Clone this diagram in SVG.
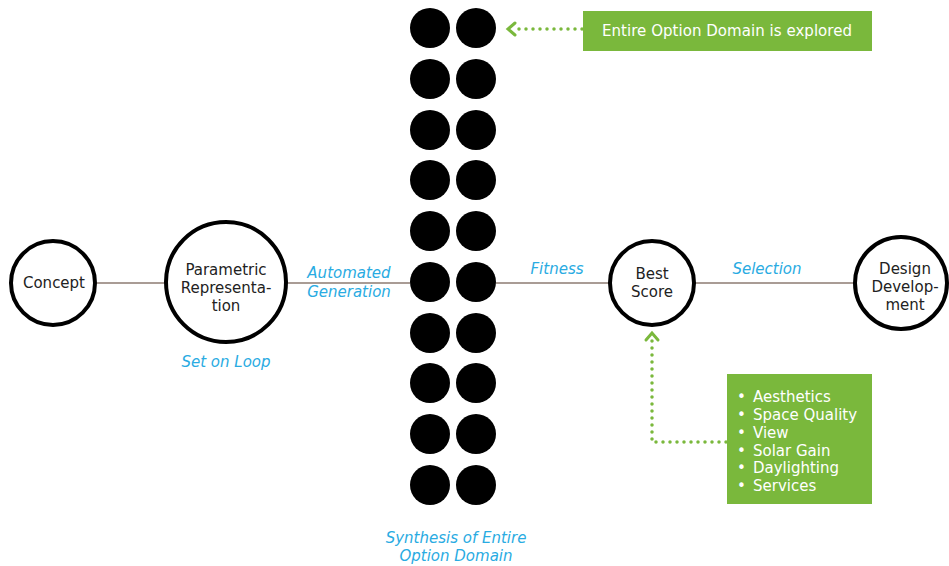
<svg xmlns="http://www.w3.org/2000/svg" width="949" height="566" viewBox="0 0 949 566">
<defs>
<style>
.node{fill:#fff;stroke:#000;stroke-width:4}
.dot{fill:#000}
.nt{font-family:"DejaVu Sans","Liberation Sans",sans-serif;font-size:15px;fill:#222;text-anchor:middle}
.bl{font-family:"DejaVu Sans","Liberation Sans",sans-serif;font-size:15px;font-style:italic;fill:#29abe2;text-anchor:middle}
.wt{font-family:"DejaVu Sans","Liberation Sans",sans-serif;font-size:15px;fill:#fff}
.conn{stroke:#8c7b72;stroke-width:1.5;fill:none}
.dotted{stroke:#7ab83c;stroke-width:3.5;stroke-linecap:round;stroke-dasharray:0 7;fill:none}
.chev{stroke:#7ab83c;stroke-width:3;fill:none;stroke-linecap:round;stroke-linejoin:miter}
.box{fill:#7ab83c}
</style>
</defs>
<rect width="949" height="566" fill="#fff"/>
<g id="connectors">
<line class="conn" x1="97" y1="283" x2="166" y2="283"/>
<line class="conn" x1="287" y1="283" x2="410" y2="283"/>
<line class="conn" x1="496" y1="283" x2="610" y2="283"/>
<line class="conn" x1="694" y1="283" x2="855" y2="283"/>
<path class="dotted" d="M582 29 H513"/>
<path class="chev" d="M515 23 L508 29 L515 35"/>
<path class="dotted" d="M726 442 H652 V340"/>
<path class="chev" d="M646 340 L652 333 L658 340"/>
</g>
<g id="concept">
<circle class="node" cx="53" cy="283" r="42"/>
<text class="nt" x="54" y="288">Concept</text>
</g>
<g id="parametric">
<circle class="node" cx="226" cy="282" r="60"/>
<text class="nt" x="226" y="275">Parametric</text>
<text class="nt" x="226" y="293">Representa-</text>
<text class="nt" x="226" y="311">tion</text>
</g>
<g id="options">
<circle class="dot" cx="430" cy="28" r="20"/><circle class="dot" cx="476" cy="28" r="20"/>
<circle class="dot" cx="430" cy="79" r="20"/><circle class="dot" cx="476" cy="79" r="20"/>
<circle class="dot" cx="430" cy="130" r="20"/><circle class="dot" cx="476" cy="130" r="20"/>
<circle class="dot" cx="430" cy="180" r="20"/><circle class="dot" cx="476" cy="180" r="20"/>
<circle class="dot" cx="430" cy="231" r="20"/><circle class="dot" cx="476" cy="231" r="20"/>
<circle class="dot" cx="430" cy="282" r="20"/><circle class="dot" cx="476" cy="282" r="20"/>
<circle class="dot" cx="430" cy="333" r="20"/><circle class="dot" cx="476" cy="333" r="20"/>
<circle class="dot" cx="430" cy="383" r="20"/><circle class="dot" cx="476" cy="383" r="20"/>
<circle class="dot" cx="430" cy="434" r="20"/><circle class="dot" cx="476" cy="434" r="20"/>
<circle class="dot" cx="430" cy="485" r="20"/><circle class="dot" cx="476" cy="485" r="20"/>
</g>
<g id="best-score">
<circle class="node" cx="652" cy="283" r="42"/>
<text class="nt" x="652" y="279">Best</text>
<text class="nt" x="652" y="297">Score</text>
</g>
<g id="design-development">
<circle class="node" cx="901" cy="283" r="46"/>
<text class="nt" x="905" y="274">Design</text>
<text class="nt" x="905" y="292">Develop-</text>
<text class="nt" x="905" y="310">ment</text>
</g>
<g id="labels">
<text class="bl" x="349" y="278">Automated</text>
<text class="bl" x="349" y="297">Generation</text>
<text class="bl" x="557" y="274">Fitness</text>
<text class="bl" x="767" y="274">Selection</text>
<text class="bl" x="226" y="367">Set on Loop</text>
<text class="bl" x="456" y="543">Synthesis of Entire</text>
<text class="bl" x="456" y="561">Option Domain</text>
</g>
<g id="explored-note">
<rect class="box" x="583" y="11" width="289" height="40"/>
<text class="wt" x="727" y="36" text-anchor="middle" textLength="250">Entire Option Domain is explored</text>
</g>
<g id="criteria-note">
<rect class="box" x="727" y="374" width="145" height="130"/>
<g class="wt">
<text x="737" y="402">•</text><text x="753" y="402">Aesthetics</text>
<text x="737" y="420">•</text><text x="753" y="420">Space Quality</text>
<text x="737" y="438">•</text><text x="753" y="438">View</text>
<text x="737" y="456">•</text><text x="753" y="456">Solar Gain</text>
<text x="737" y="473">•</text><text x="753" y="473">Daylighting</text>
<text x="737" y="491">•</text><text x="753" y="491">Services</text>
</g>
</g>
</svg>
